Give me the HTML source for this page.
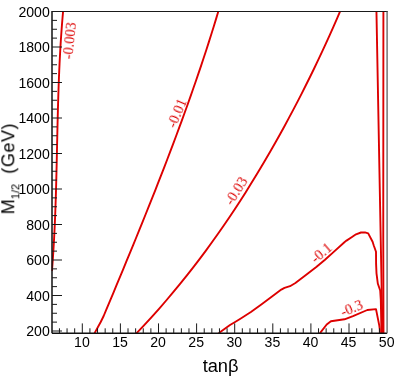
<!DOCTYPE html>
<html><head><meta charset="utf-8"><title>chart</title>
<style>
html,body{margin:0;padding:0;background:#fff;}
svg{display:block} text{filter:url(#idf)}
.tl{font-family:"Liberation Sans",sans-serif;font-size:14.1px;fill:#000}
.ti{font-family:"Liberation Sans",sans-serif;font-size:18px;fill:#000}
.su{font-family:"Liberation Sans",sans-serif;font-size:11px;fill:#000}
.cl{font-family:"Liberation Serif",serif;font-size:14.3px;fill:#dd0000}
.cv{fill:none;stroke:#dd0000;stroke-width:1.9;stroke-linejoin:round}
</style></head><body>
<svg width="399" height="383" viewBox="0 0 399 383">
<defs><clipPath id="cp"><rect x="51.5" y="11.2" width="336.1" height="322.5"/></clipPath><filter id="idf" x="-20%" y="-20%" width="140%" height="140%" color-interpolation-filters="sRGB"><feOffset dx="0" dy="0"/></filter></defs>
<rect width="399" height="383" fill="#fff"/>
<text x="49.8" y="336.40" text-anchor="end" class="tl">200</text>
<text x="49.8" y="300.90" text-anchor="end" class="tl">400</text>
<text x="49.8" y="265.40" text-anchor="end" class="tl">600</text>
<text x="49.8" y="229.90" text-anchor="end" class="tl">800</text>
<text x="49.8" y="194.40" text-anchor="end" class="tl">1000</text>
<text x="49.8" y="158.90" text-anchor="end" class="tl">1200</text>
<text x="49.8" y="123.40" text-anchor="end" class="tl">1400</text>
<text x="49.8" y="87.90" text-anchor="end" class="tl">1600</text>
<text x="49.8" y="52.40" text-anchor="end" class="tl">1800</text>
<text x="49.8" y="16.90" text-anchor="end" class="tl">2000</text>
<text x="81.90" y="346.6" text-anchor="middle" class="tl">10</text>
<text x="120.00" y="346.6" text-anchor="middle" class="tl">15</text>
<text x="158.10" y="346.6" text-anchor="middle" class="tl">20</text>
<text x="196.20" y="346.6" text-anchor="middle" class="tl">25</text>
<text x="234.30" y="346.6" text-anchor="middle" class="tl">30</text>
<text x="272.40" y="346.6" text-anchor="middle" class="tl">35</text>
<text x="310.50" y="346.6" text-anchor="middle" class="tl">40</text>
<text x="348.60" y="346.6" text-anchor="middle" class="tl">45</text>
<text x="386.70" y="346.6" text-anchor="middle" class="tl">50</text>
<text x="220.6" y="372" text-anchor="middle" class="ti" style="font-size:18.3px">tanβ</text>
<g transform="translate(14.3,214.3) rotate(-90)"><text x="0" y="0" class="ti">M</text><text x="15.1" y="5" class="su">1/2</text><text x="40.6" y="0" class="ti" style="letter-spacing:0.55px">(GeV)</text></g>
<path d="M63.14,10.8 L62.55,17.47 L62.01,24.14 L61.5,30.82 L61.04,37.49 L60.61,44.16 L60.22,50.83 L59.86,57.5 L59.53,64.17 L59.23,70.85 L58.95,77.52 L58.7,84.19 L58.47,90.86 L58.26,97.53 L58.06,104.21 L57.88,110.88 L57.71,117.55 L57.55,124.22 L57.39,130.89 L57.25,137.56 L57.1,144.24 L56.96,150.91 L56.81,157.58 L56.67,164.25 L56.51,170.92 L56.35,177.59 L56.17,184.27 L55.99,190.94 L55.79,197.61 L55.57,204.28 L55.33,210.95 L55.07,217.63 L54.79,224.3 L54.47,230.97 L54.14,237.64 L53.77,244.31 L53.36,250.98 L52.92,257.66 L52.45,264.33 L51.93,271.0" class="cv" clip-path="url(#cp)"/>
<path d="M218.51,10.8 L216.15,18.63 L213.75,26.45 L211.31,34.28 L208.82,42.1 L206.3,49.93 L203.73,57.75 L201.13,65.58 L198.48,73.41 L195.8,81.23 L193.09,89.06 L190.34,96.88 L187.55,104.71 L184.74,112.53 L181.89,120.36 L179.01,128.18 L176.11,136.01 L173.17,143.84 L170.21,151.66 L167.22,159.49 L164.21,167.31 L161.17,175.14 L158.11,182.96 L155.03,190.79 L151.92,198.62 L148.8,206.44 L145.66,214.27 L142.5,222.09 L139.33,229.92 L136.14,237.74 L132.94,245.57 L129.72,253.39 L126.49,261.22 L123.25,269.05 L120.0,276.87 L116.74,284.7 L113.48,292.52 L110.21,300.35 L106.93,308.17 L103.65,316.0 L100.7,322 L94.3,333.6" class="cv" clip-path="url(#cp)"/>
<path d="M340.32,10.8 L336.78,19.08 L333.17,27.35 L329.48,35.63 L325.72,43.91 L321.89,52.18 L317.99,60.46 L314.01,68.74 L309.97,77.02 L305.85,85.29 L301.67,93.57 L297.41,101.85 L293.08,110.12 L288.67,118.4 L284.19,126.68 L279.63,134.95 L274.99,143.23 L270.27,151.51 L265.46,159.78 L260.56,168.06 L255.57,176.34 L250.48,184.62 L245.29,192.89 L239.99,201.17 L234.59,209.45 L229.07,217.72 L223.43,226.0 L217.66,234.28 L211.76,242.55 L205.73,250.83 L199.54,259.11 L193.21,267.38 L186.72,275.66 L180.06,283.94 L173.23,292.22 L166.22,300.49 L159.01,308.77 L151.61,317.05 L144.0,325.32 L136.17,333.6" class="cv" clip-path="url(#cp)"/>
<path d="M218.6,333.6 L219.6,332.6 L230,325 L234.7,322.2 L240.4,318.7 L250.9,312.0 L261.3,304.5 L270,298.0 L276,293.6 L281.3,289.6 L284.5,287.9 L290,286.2 L295.4,283.0 L305.9,275.0 L316.3,267.0 L325,259.8 L332.9,252.6 L344.4,242.2 L346.5,240.6 L352,237 L356,234.3 L361,232.5 L365,232.4 L368.2,233.4 L372.6,241.8 L373.7,245.2 L376.0,251.8 L376.1,264.1 L376.5,273.3 L377.8,283.5 L380.2,290.5 L380.8,300 L381.5,333.6" class="cv" clip-path="url(#cp)"/>
<path d="M320,333.2 L326.7,324.5 L330.9,321.2 L344.5,319.3 L353,316.1 L367.3,310.0 L376.0,309.1 L379.3,325.6 L379.8,329.5 L379.9,333.6" class="cv" clip-path="url(#cp)"/>
<path d="M376.45,11.5 L381.2,265 L382.5,333.6" class="cv" clip-path="url(#cp)"/>
<path d="M383.4,11.5 L383.25,240 L383.5,333.6" class="cv" clip-path="url(#cp)"/>
<path d="M52.0,333.2V11.0" fill="none" stroke="#111" stroke-width="1.5"/>
<path d="M52.0,11.5H387.8" fill="none" stroke="#1a1a1a" stroke-width="1.1"/>
<path d="M52.0,333.2H387.1" fill="none" stroke="#111" stroke-width="1.4"/>
<path d="M387.1,11.5V333.2" fill="none" stroke="#6a6a6a" stroke-width="1.4"/>
<path d="M52.0,331.00h10M52.0,322.12h5M52.0,313.25h5M52.0,304.38h5M52.0,295.50h10M52.0,286.62h5M52.0,277.75h5M52.0,268.88h5M52.0,260.00h10M52.0,251.12h5M52.0,242.25h5M52.0,233.38h5M52.0,224.50h10M52.0,215.62h5M52.0,206.75h5M52.0,197.88h5M52.0,189.00h10M52.0,180.12h5M52.0,171.25h5M52.0,162.38h5M52.0,153.50h10M52.0,144.62h5M52.0,135.75h5M52.0,126.88h5M52.0,118.00h10M52.0,109.12h5M52.0,100.25h5M52.0,91.38h5M52.0,82.50h10M52.0,73.62h5M52.0,64.75h5M52.0,55.88h5M52.0,47.00h10M52.0,38.12h5M52.0,29.25h5M52.0,20.38h5M52.0,11.50h10" fill="none" stroke="#1a1a1a" stroke-width="1.0"/>
<path d="M59.44,333.2v-4.9M67.06,333.2v-4.9M74.68,333.2v-4.9M82.30,333.2v-9.8M89.92,333.2v-4.9M97.54,333.2v-4.9M105.16,333.2v-4.9M112.78,333.2v-4.9M120.40,333.2v-9.8M128.02,333.2v-4.9M135.64,333.2v-4.9M143.26,333.2v-4.9M150.88,333.2v-4.9M158.50,333.2v-9.8M166.12,333.2v-4.9M173.74,333.2v-4.9M181.36,333.2v-4.9M188.98,333.2v-4.9M196.60,333.2v-9.8M204.22,333.2v-4.9M211.84,333.2v-4.9M219.46,333.2v-4.9M227.08,333.2v-4.9M234.70,333.2v-9.8M242.32,333.2v-4.9M249.94,333.2v-4.9M257.56,333.2v-4.9M265.18,333.2v-4.9M272.80,333.2v-9.8M280.42,333.2v-4.9M288.04,333.2v-4.9M295.66,333.2v-4.9M303.28,333.2v-4.9M310.90,333.2v-9.8M318.52,333.2v-4.9M326.14,333.2v-4.9M333.76,333.2v-4.9M341.38,333.2v-4.9M349.00,333.2v-9.8M356.62,333.2v-4.9M364.24,333.2v-4.9M371.86,333.2v-4.9M379.48,333.2v-4.9" fill="none" stroke="#1a1a1a" stroke-width="1.0"/>
<text transform="translate(74.2,41.2) rotate(-84)" text-anchor="middle" class="cl">-0.003</text>
<text transform="translate(181.3,115.0) rotate(-67)" text-anchor="middle" class="cl">-0.01</text>
<text transform="translate(240.2,193.5) rotate(-57.5)" text-anchor="middle" class="cl">-0.03</text>
<text transform="translate(324.35,256.65) rotate(-40)" text-anchor="middle" class="cl">-0.1</text>
<text transform="translate(353.4,312.7) rotate(-22)" text-anchor="middle" class="cl">-0.3</text>
</svg>
</body></html>
